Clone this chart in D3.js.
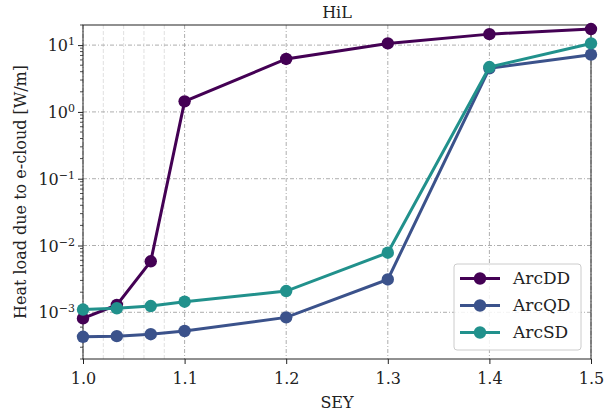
<!DOCTYPE html>
<meta charset="utf-8">
<head>
<style>
  body { margin: 0; background: #fff; }
  svg text { font-family: "DejaVu Serif", serif; fill: #222; }
</style>
</head>
<body>
<div id="chart"></div>
<script src="https://d3js.org/d3.v7.min.js"></script>
<script>
// SEY values
var sey = [1.0, 1.0333, 1.0667, 1.1, 1.2, 1.3, 1.4, 1.5];

// heat load per series [W/m]
var arcDD = [8.1e-4, 1.29e-3, 5.8e-3, 1.44, 6.2, 10.6, 14.6, 17.4];
var arcQD = [4.3e-4, 4.4e-4, 4.7e-4, 5.25e-4, 8.4e-4, 3.1e-3, 4.5, 7.2];
var arcSD = [1.1e-3, 1.15e-3, 1.24e-3, 1.44e-3, 2.08e-3, 7.8e-3, 4.7, 10.6];

var seriesNames = ["ArcDD", "ArcQD", "ArcSD"];
var seriesColors = ["#440154", "#3b528b", "#21918c"];
var xTicks = [1.0, 1.1, 1.2, 1.3, 1.4, 1.5];
var xMinor = [1.02, 1.04, 1.06, 1.08];
var yTicks = [1e-3, 1e-2, 1e-1, 1e0, 1e1];

var W = 613, H = 411;
var margin = {top: 25, right: 22, bottom: 52, left: 83};
var width = W - margin.left - margin.right,
    height = H - margin.top - margin.bottom;

var svg = d3.select("#chart").append("svg")
    .attr("width", W).attr("height", H);
var g = svg.append("g")
    .attr("transform", "translate(" + margin.left + "," + margin.top + ")");

var x = d3.scaleLinear().domain([1.0, 1.5]).range([0, width]);
var y = d3.scaleLog().domain([2.0e-4, 20]).range([height, 0]);

// minor vertical grid (very light)
g.selectAll(".minorx").data(xMinor).enter().append("line")
    .attr("x1", d => x(d)).attr("x2", d => x(d))
    .attr("y1", 0).attr("y2", height)
    .attr("stroke", "#d8d8d8").attr("stroke-width", 0.8)
    .attr("stroke-dasharray", "4,2");

// major grid
g.selectAll(".gx").data(xTicks).enter().append("line")
    .attr("x1", d => x(d)).attr("x2", d => x(d))
    .attr("y1", 0).attr("y2", height)
    .attr("stroke", "#999").attr("stroke-width", 0.8)
    .attr("stroke-dasharray", "4,2,1,2");
g.selectAll(".gy").data(yTicks).enter().append("line")
    .attr("x1", 0).attr("x2", width)
    .attr("y1", d => y(d)).attr("y2", d => y(d))
    .attr("stroke", "#999").attr("stroke-width", 0.8)
    .attr("stroke-dasharray", "4,2,1,2");

// axes
var xAxis = g.append("g")
    .attr("transform", "translate(0," + height + ")")
    .call(d3.axisBottom(x).tickValues(xTicks).tickFormat(d3.format(".1f")).tickSizeOuter(0).tickSize(5));
xAxis.selectAll("text").style("font-size", "16px").attr("dy", "1.05em");

// minor y ticks
var minorY = [];
for (var e = -4; e <= 1; e++) {
  for (var m = 2; m <= 9; m++) {
    var v = m * Math.pow(10, e);
    if (v >= y.domain()[0] && v <= y.domain()[1]) minorY.push(v);
  }
}
g.selectAll(".minory").data(minorY).enter().append("line")
    .attr("x1", -3).attr("x2", 0)
    .attr("y1", d => y(d)).attr("y2", d => y(d))
    .attr("stroke", "#222").attr("stroke-width", 0.8);

var yAxis = g.append("g")
    .call(d3.axisLeft(y).tickValues(yTicks).tickFormat("").tickSizeOuter(0).tickSize(5));

yAxis.selectAll(".tick").append("text")
    .attr("x", -8).attr("dy", "0.35em")
    .attr("text-anchor", "end")
    .style("font-size", "16px")
    .each(function(d) {
      var t = d3.select(this);
      t.append("tspan").text("10");
      t.append("tspan").attr("dy", "-0.55em").style("font-size", "11px")
        .text(String(Math.round(Math.log10(d))).replace("-", "\u2212"));
    });

g.selectAll(".domain").remove();
g.selectAll(".tick line").attr("stroke", "#222");

// frame
g.append("rect").attr("width", width).attr("height", height)
    .attr("fill", "none").attr("stroke", "#222").attr("stroke-width", 1);

// lines and markers
var series = [arcDD, arcQD, arcSD];
var line = d3.line().x((d, i) => x(sey[i])).y(d => y(d));
series.forEach(function(vals, k) {
  g.append("path").datum(vals)
    .attr("d", line)
    .attr("fill", "none")
    .attr("stroke", seriesColors[k]).attr("stroke-width", 3);
  g.selectAll(".pt" + k).data(vals).enter().append("circle")
    .attr("cx", (d, i) => x(sey[i])).attr("cy", d => y(d))
    .attr("r", 6.2).attr("fill", seriesColors[k]);
});

// legend
var lg = g.append("g").attr("transform", "translate(" + (454 - margin.left) + "," + (264 - margin.top) + ")");
lg.append("rect").attr("width", 127).attr("height", 86).attr("rx", 3)
    .attr("fill", "#fff").attr("fill-opacity", 0.85)
    .attr("stroke", "#ccc").attr("stroke-width", 1);
seriesNames.forEach(function(name, k) {
  var yy = 14.5 + k * 27;
  lg.append("line").attr("x1", 6).attr("x2", 46).attr("y1", yy).attr("y2", yy)
    .attr("stroke", seriesColors[k]).attr("stroke-width", 3);
  lg.append("circle").attr("cx", 26).attr("cy", yy).attr("r", 6.2).attr("fill", seriesColors[k]);
  lg.append("text").attr("x", 59).attr("y", yy).attr("dy", "0.35em")
    .style("font-size", "17px").text(name);
});

// labels
svg.append("text").attr("x", margin.left + width / 2).attr("y", 18)
    .attr("text-anchor", "middle").style("font-size", "16px").text("HiL");
svg.append("text").attr("x", margin.left + width / 2).attr("y", 408)
    .attr("text-anchor", "middle").style("font-size", "16px").text("SEY");
svg.append("text")
    .attr("transform", "translate(26," + (margin.top + height / 2) + ") rotate(-90)")
    .attr("text-anchor", "middle").style("font-size", "16px")
    .text("Heat load due to e-cloud [W/m]");
</script>
</body>
